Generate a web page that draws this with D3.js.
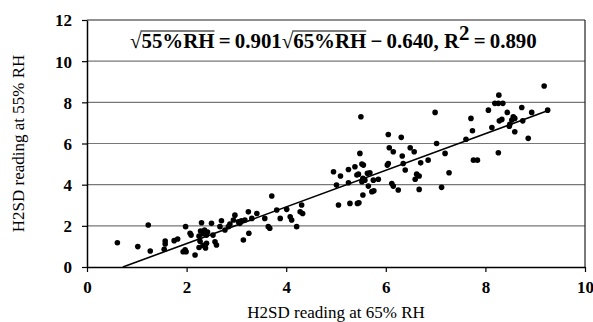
<!DOCTYPE html>
<html>
<head>
<meta charset="utf-8">
<script src="https://cdn.jsdelivr.net/npm/d3@7"></script>
<style>
  body { margin: 0; background: #fff; }
  svg text { font-family: "Liberation Serif", "Times New Roman", serif; }
</style>
</head>
<body>
<div id="chart"></div>
<script>
// H2SD readings, x = at 65% RH, y = at 55% RH
const reading65 = [
  0.61, 1.23, 1.02, 1.27, 1.57, 1.57, 1.55, 1.75, 1.82, 1.98, 2.07, 2.09, 1.93, 1.99, 1.97,
  2.17, 2.30, 2.28, 2.33, 2.36, 2.40, 2.25, 2.42, 2.27, 2.33, 2.38, 2.25, 2.40, 2.53, 2.57,
  2.60, 2.50, 2.67, 2.70, 2.77, 2.84, 2.87, 2.97, 2.94, 3.04, 3.07, 3.10, 3.14, 3.25, 3.24,
  3.17, 3.31, 3.41, 3.57, 3.64, 3.67, 3.71, 3.88, 3.81, 4.01, 4.08, 4.11, 4.21, 4.31, 4.28,
  4.33, 4.95, 5.09, 5.25, 5.38, 5.48, 5.52, 5.55, 5.42, 5.45, 5.63, 5.68, 5.54, 5.58, 5.01,
  5.25, 5.52, 5.65, 5.75, 5.85, 5.05, 5.28, 5.43, 5.46, 5.54, 5.72, 5.76, 6.03, 5.50, 6.99,
  7.71, 7.74, 6.05, 6.31, 7.02, 7.61, 6.07, 6.15, 6.49, 6.57, 6.33, 7.19, 6.05, 6.35, 6.39,
  6.70, 6.85, 7.27, 7.76, 7.84, 6.62, 6.67, 6.59, 6.12, 6.15, 6.25, 6.67, 7.12, 9.18, 8.27,
  8.19, 8.26, 8.35, 8.73, 8.06, 8.44, 8.93, 9.25, 8.33, 8.28, 8.56, 8.53, 8.59, 8.75, 8.49,
  8.48, 8.13, 8.59, 8.86, 8.26
];
const reading55 = [
  1.18, 2.04, 0.99, 0.78, 1.26, 1.12, 0.86, 1.28, 1.36, 1.96, 1.64, 1.55, 0.74, 0.74, 0.83,
  0.58, 2.15, 1.75, 1.62, 1.80, 1.55, 1.50, 1.70, 1.25, 1.05, 0.92, 0.95, 1.15, 1.55, 1.23,
  1.07, 2.12, 1.96, 2.25, 1.80, 1.96, 2.09, 2.52, 2.28, 2.20, 2.12, 2.25, 1.31, 1.64, 2.68,
  2.28, 2.36, 2.60, 2.36, 1.96, 1.88, 3.45, 2.36, 2.77, 2.80, 2.44, 2.28, 1.96, 3.01, 2.68,
  2.60, 4.63, 4.42, 4.74, 4.87, 5.52, 5.00, 4.95, 4.47, 4.51, 4.55, 4.58, 4.31, 4.22, 3.98,
  4.09, 4.14, 3.93, 4.22, 4.26, 3.01, 3.09, 3.09, 3.12, 3.50, 3.66, 3.70, 4.95, 7.30, 7.51,
  7.22, 6.62, 6.44, 6.30, 6.00, 6.21, 5.79, 5.60, 5.79, 5.60, 5.39, 5.52, 5.03, 5.03, 4.71,
  5.06, 5.19, 4.58, 5.19, 5.19, 4.51, 4.42, 4.26, 4.06, 3.93, 3.74, 3.77, 3.87, 8.79, 8.35,
  7.95, 7.95, 7.95, 7.75, 7.62, 7.51, 7.51, 7.62, 7.17, 7.10, 7.30, 7.14, 7.22, 7.10, 6.93,
  6.84, 6.78, 6.57, 6.25, 5.55
];
// trend line endpoints as drawn
const fitX = [0.72, 9.26];
const fitY = [0.0, 7.6];

const xTicks = [0, 2, 4, 6, 8, 10];
const yTicks = [0, 2, 4, 6, 8, 10, 12];

const width = 593, height = 322;
const margin = { left: 87, right: 8, top: 20, bot: 55 };

const svg = d3.select("#chart").append("svg")
  .attr("width", width).attr("height", height);

const x = d3.scaleLinear().domain([0, 10]).range([margin.left, width - margin.right]);
const y = d3.scaleLinear().domain([0, 12]).range([height - margin.bot, margin.top]);

// gridlines
svg.append("g").selectAll("line")
  .data(yTicks.filter(d => d > 0))
  .join("line")
  .attr("x1", x(0)).attr("x2", x(10))
  .attr("y1", d => y(d)).attr("y2", d => y(d))
  .attr("stroke", d => d === 12 ? "#222" : "#777")
  .attr("stroke-width", 1.2);

// right border
svg.append("line")
  .attr("x1", x(10)).attr("x2", x(10))
  .attr("y1", y(0)).attr("y2", y(12))
  .attr("stroke", "#222").attr("stroke-width", 1.2);

// axes
const xAxis = svg.append("g")
  .attr("transform", `translate(0,${y(0)})`)
  .call(d3.axisBottom(x).tickValues(xTicks).tickSize(5).tickSizeOuter(0).tickPadding(9));
const yAxis = svg.append("g")
  .attr("transform", `translate(${x(0)},0)`)
  .call(d3.axisLeft(y).tickValues(yTicks).tickSize(5).tickSizeOuter(0).tickPadding(10));

[xAxis, yAxis].forEach(g => {
  g.attr("font-family", null);
  g.select(".domain").attr("stroke", "#000").attr("stroke-width", 1.5);
  g.selectAll(".tick line").attr("stroke", "#000").attr("stroke-width", 1.2);
  g.selectAll("text")
    .attr("font-size", 17)
    .attr("font-weight", "bold")
    .attr("fill", "#000");
});
yAxis.selectAll("text").attr("dy", "0.35em");

// axis titles
svg.append("text")
  .text("H2SD reading at 65% RH")
  .attr("text-anchor", "middle")
  .attr("x", (x(0) + x(10)) / 2)
  .attr("y", 318)
  .attr("font-size", 17);

svg.append("text")
  .text("H2SD reading at 55% RH")
  .attr("text-anchor", "middle")
  .attr("transform", "rotate(-90)")
  .attr("x", -(y(0) + y(12)) / 2)
  .attr("y", 24)
  .attr("font-size", 17);

// points
svg.append("g").selectAll("circle")
  .data(reading65.map((v, i) => [v, reading55[i]]))
  .join("circle")
  .attr("cx", d => x(d[0]))
  .attr("cy", d => y(d[1]))
  .attr("r", 2.8)
  .attr("fill", "#000");

// trend line
svg.append("path")
  .datum(fitX.map((v, i) => [v, fitY[i]]))
  .attr("d", d3.line().x(d => x(d[0])).y(d => y(d[1])))
  .attr("stroke", "#000").attr("stroke-width", 1.6).attr("fill", "none");

// equation
const eqLeft = 130, eqRight = 537;
const eq = svg.append("text")
  .attr("x", eqLeft).attr("y", 48)
  .attr("font-size", 22)
  .attr("font-weight", "bold");
eq.append("tspan").text("\u221A").attr("font-weight", "normal");
eq.append("tspan").text("55%RH");
eq.append("tspan").text("\u2009=\u20090.901");
eq.append("tspan").text("\u221A").attr("font-weight", "normal");
eq.append("tspan").text("65%RH");
eq.append("tspan").text("\u2009\u2212\u20090.640, R");
eq.append("tspan").text("2").attr("dy", -8);
eq.append("tspan").text("\u2009=\u20090.890").attr("dy", 8);

// shrink to the width seen in the reference
const node = eq.node();
const len = node.getComputedTextLength();
if (len > eqRight - eqLeft) eq.attr("font-size", 22 * (eqRight - eqLeft) / len);

// overlines over radicands
const full = eq.text();
function overline(sub) {
  const start = full.indexOf(sub);
  const x0 = node.getStartPositionOfChar(start).x;
  const x1 = node.getEndPositionOfChar(start + sub.length - 1).x;
  svg.append("line")
    .attr("x1", x0 - 1).attr("x2", x1)
    .attr("y1", 31).attr("y2", 31)
    .attr("stroke", "#000").attr("stroke-width", 1.2);
}
overline("55%RH");
overline("65%RH");
</script>
</body>
</html>
